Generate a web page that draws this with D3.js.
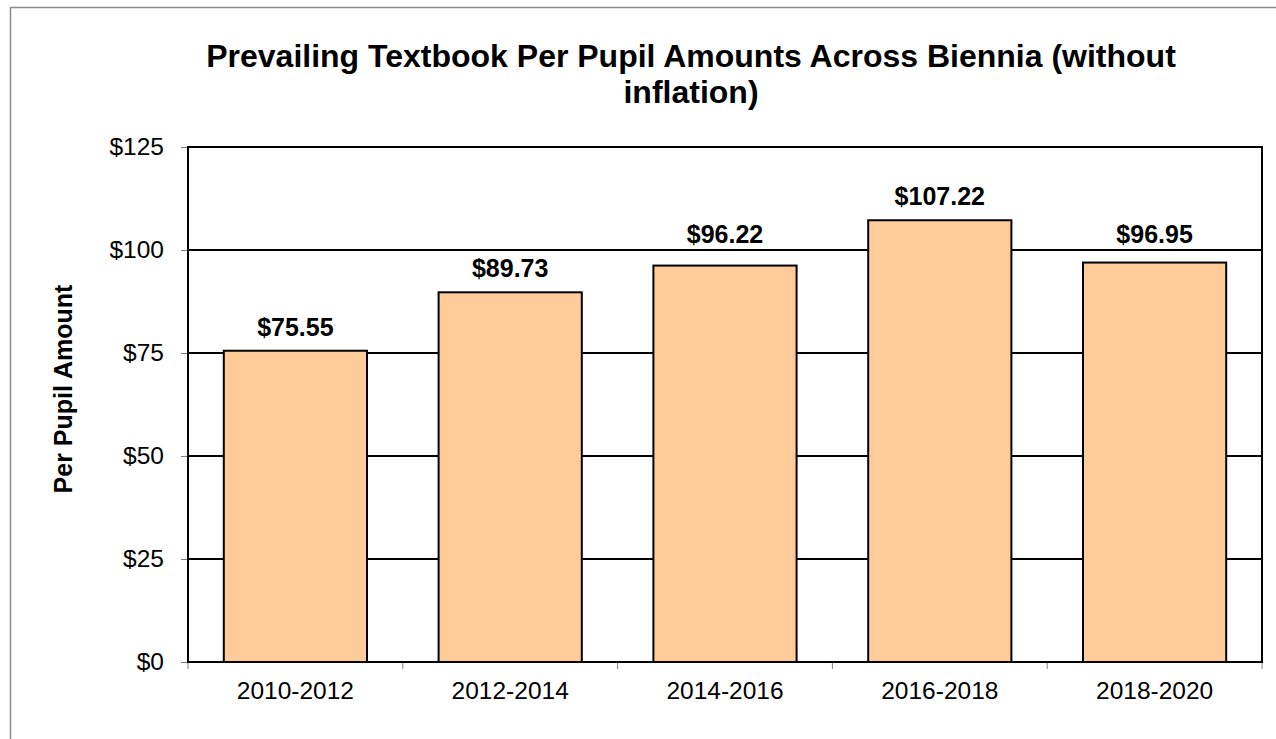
<!DOCTYPE html>
<html>
<head>
<meta charset="utf-8">
<script src="https://cdn.jsdelivr.net/npm/d3@7"></script>
<style>
  body { margin: 0; background: #fff; }
  svg { display: block; font-family: "Liberation Sans", Arial, sans-serif; }
</style>
</head>
<body>
<div id="chart"></div>
<script>
var categories = ['2010-2012', '2012-2014', '2014-2016', '2016-2018', '2018-2020'];
var amounts = [75.55, 89.73, 96.22, 107.22, 96.95];
var yTicks = [0, 25, 50, 75, 100, 125];
var titleLines = ['Prevailing Textbook Per Pupil Amounts Across Biennia (without', 'inflation)'];

var width = 1276, height = 739;
var plot = {left: 188, top: 147, right: 1262, bottom: 662};

var svg = d3.select('#chart').append('svg')
	.attr('width', width)
	.attr('height', height);

// outer chart frame (runs off the right/bottom edge)
svg.append('rect')
	.attr('x', 10.5).attr('y', 7.5)
	.attr('width', 1400).attr('height', 900)
	.attr('fill', 'none')
	.attr('stroke', '#8c8c8c')
	.attr('stroke-width', 1.5);

var x = d3.scaleBand()
	.domain(categories)
	.range([plot.left, plot.right])
	.paddingInner(1 / 3)
	.paddingOuter(1 / 6);

var y = d3.scaleLinear()
	.domain([0, 125])
	.range([plot.bottom, plot.top]);

// title
svg.append('text')
	.attr('x', 691)
	.attr('y', 67)
	.attr('text-anchor', 'middle')
	.attr('font-size', '32px')
	.attr('font-weight', 'bold')
	.selectAll('tspan')
	.data(titleLines)
	.enter().append('tspan')
	.attr('x', 691)
	.attr('dy', function(d, i) { return i ? 36 : 0; })
	.text(function(d) { return d; });

// gridlines
var gridValues = yTicks.slice(1, -1);
svg.append('g')
	.selectAll('line')
	.data(gridValues)
	.enter().append('line')
	.attr('x1', plot.left).attr('x2', plot.right)
	.attr('y1', function(d) { return y(d); })
	.attr('y2', function(d) { return y(d); })
	.attr('stroke', '#000')
	.attr('stroke-width', 2);

// y axis
var yAxis = svg.append('g')
	.attr('transform', 'translate(' + plot.left + ',0)')
	.call(d3.axisLeft(y).tickValues(yTicks).tickSize(7).tickPadding(17)
		.tickFormat(function(d) { return '$' + d; }));
yAxis.select('.domain').remove();
yAxis.selectAll('.tick line').attr('stroke', '#808080');
yAxis.selectAll('.tick text')
	.attr('font-size', '24.5px')
	.attr('font-family', '"Liberation Sans", Arial, sans-serif')
	.attr('fill', '#000');

// x axis labels, ticks at category boundaries
var step = x.step();
var xAxis = svg.append('g')
	.attr('transform', 'translate(0,' + plot.bottom + ')')
	.call(d3.axisBottom(x).tickSize(0).tickPadding(20));
xAxis.select('.domain').remove();
xAxis.selectAll('.tick text')
	.attr('font-size', '24.5px')
	.attr('font-family', '"Liberation Sans", Arial, sans-serif')
	.attr('fill', '#000');
svg.append('g')
	.selectAll('line')
	.data(d3.range(categories.length + 1))
	.enter().append('line')
	.attr('x1', function(i) { return plot.left + i * step; })
	.attr('x2', function(i) { return plot.left + i * step; })
	.attr('y1', plot.bottom)
	.attr('y2', plot.bottom + 7)
	.attr('stroke', '#808080');

// bars
svg.append('g')
	.selectAll('rect')
	.data(amounts)
	.enter().append('rect')
	.attr('x', function(d, i) { return x(categories[i]); })
	.attr('y', function(d) { return y(d); })
	.attr('width', x.bandwidth())
	.attr('height', function(d) { return y(0) - y(d); })
	.attr('fill', '#FFCC99')
	.attr('stroke', '#000')
	.attr('stroke-width', 2);

// data labels, lifted clear of a gridline when they would sit on one
function labelY(d) {
	var base = y(d) - 15;
	gridValues.forEach(function(g) {
		var gy = y(g);
		if (base > gy - 5 && base < gy + 5) base = gy - 7;
	});
	return base;
}
svg.append('g')
	.selectAll('text')
	.data(amounts)
	.enter().append('text')
	.attr('x', function(d, i) { return x(categories[i]) + x.bandwidth() / 2; })
	.attr('y', labelY)
	.attr('text-anchor', 'middle')
	.attr('font-size', '25px')
	.attr('font-weight', 'bold')
	.text(function(d) { return '$' + d.toFixed(2); });

// plot frame
svg.append('rect')
	.attr('x', plot.left).attr('y', plot.top)
	.attr('width', plot.right - plot.left)
	.attr('height', plot.bottom - plot.top)
	.attr('fill', 'none')
	.attr('stroke', '#000')
	.attr('stroke-width', 2);

// y axis title
svg.append('text')
	.attr('transform', 'translate(72,389) rotate(-90)')
	.attr('text-anchor', 'middle')
	.attr('font-size', '25px')
	.attr('font-weight', 'bold')
	.text('Per Pupil Amount');
</script>
</body>
</html>
